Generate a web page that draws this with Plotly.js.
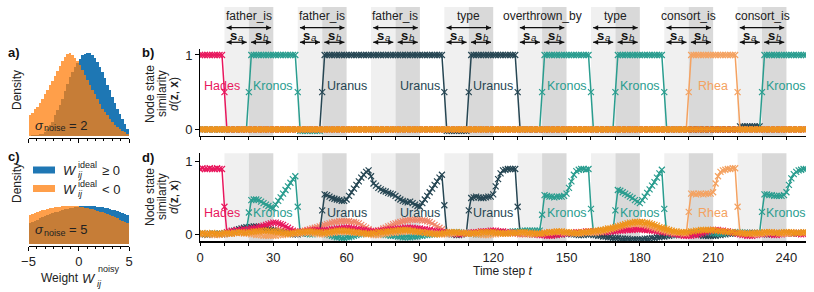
<!DOCTYPE html>
<html><head><meta charset="utf-8">
<script src="https://cdn.plot.ly/plotly-3.0.1.min.js"></script>
<style>html,body{margin:0;padding:0;background:#fff}#chart{width:814px;height:292px}</style>
</head><body><div id="chart"></div>
<script>
// ---------- DATA ----------
const binCenters = [-4.875,-4.625,-4.375,-4.125,-3.875,-3.625,-3.375,-3.125,-2.875,-2.625,-2.375,-2.125,-1.875,-1.625,-1.375,-1.125,-0.875,-0.625,-0.375,-0.125,
 0.125,0.375,0.625,0.875,1.125,1.375,1.625,1.875,2.125,2.375,2.625,2.875,3.125,3.375,3.625,3.875,4.125,4.375,4.625,4.875];
// panel a (sigma_noise = 2), relative density
const posA = [.005,.007,.01,.015,.02,.03,.045,.09,.13,.17,.25,.31,.37,.45,.54,.63,.71,.77,.83,.88,
 .93,.97,.99,1.0,1.0,.98,.94,.89,.83,.77,.70,.62,.55,.47,.40,.32,.26,.20,.14,.09];
const negA = [.25,.28,.32,.355,.40,.45,.50,.55,.61,.66,.72,.78,.84,.90,.95,.99,1.0,.97,.94,.90,
 .85,.79,.73,.68,.62,.56,.50,.44,.39,.33,.29,.25,.205,.165,.135,.105,.08,.06,.045,.03];
// panel c (sigma_noise = 5)
const negC = [.355,.365,.375,.385,.395,.405,.415,.425,.432,.438,.443,.448,.451,.455,.458,.46,.46,.458,.456,.452,
 .448,.444,.438,.432,.426,.418,.41,.40,.39,.38,.37,.36,.345,.333,.32,.308,.295,.282,.27,.255];
const posC = [.255,.27,.282,.295,.308,.32,.333,.345,.36,.37,.38,.39,.40,.41,.418,.426,.432,.438,.444,.448,
 .452,.456,.458,.46,.46,.458,.455,.451,.448,.443,.438,.432,.425,.415,.405,.395,.385,.375,.365,.355];

const nSteps = 249;
// panel b (ideal weights), t = 0..248
const hadesB = [
1,1,1,1,1,1,1,1,1,1, .5,0,0,0,0,0,0,0,0,0, 0,0,0,0,0,0,0,0,0,0, 0,0,0,0,0,0,0,0,0,0, 0,0,0,0,0,0,0,0,0,0,
0,0,0,0,0,0,0,0,0,0, 0,0,0,0,0,0,0,0,0,0, 0,0,0,0,0,0,0,0,0,0, 0,0,0,0,0,0,0,0,0,0, 0,0,0,0,0,0,0,0,0,0,
0,0,0,0,0,0,0,0,0,0, 0,0,0,0,0,0,0,0,0,0, 0,0,0,0,0,0,0,0,0,0, 0,0,0,0,0,0,0,0,0,0, 0,0,0,0,0,0,0,0,0,0,
0,0,0,0,0,0,0,0,0,0, 0,0,0,0,0,0,0,0,0,0, 0,0,0,0,0,0,0,0,0,0, 0,0,0,0,0,0,0,0,0,0, 0,0,0,0,0,0,0,0,0,0,
0,0,0,0,0,0,0,0,0,0, 0,0,0,0,0,0,0,0,0,0, 0,0,0,0,0,0,0,0,0,0, 0,0,0,0,0,0,0,0,0,0, 0,0,0,0,0,0,0,0,0];
const kronosB = [
0,0,0,0,0,0,0,0,0,0, 0,0,0,0,0,0,0,0,0,0, .5,1,1,1,1,1,1,1,1,1, 1,1,1,1,1,1,1,1,1,1, .5,-.02,-.02,-.02,-.02,-.02,-.02,-.02,-.02,-.02,
0,0,0,0,0,0,0,0,0,0, 0,0,0,0,0,0,0,0,0,0, 0,0,0,0,0,0,0,0,0,0, 0,0,0,0,0,0,0,0,0,0, 0,0,0,0,0,0,0,0,0,0,
0,0,0,0,0,0,0,0,0,0, 0,0,0,0,0,0,0,0,0,0, 0,0,0,0,0,0,0,0,0,0, 0,0,0,0,0,0,0,0,0,0, .5,1,1,1,1,1,1,1,1,1,
1,1,1,1,1,1,1,1,1,1, .5,0,0,0,0,0,0,0,0,0, .5,1,1,1,1,1,1,1,1,1, 1,1,1,1,1,1,1,1,1,1, .5,0,0,0,0,0,0,0,0,0,
0,0,0,0,0,0,0,0,0,0, 0,0,0,0,0,0,0,0,0,0, 0,0,0,0,0,0,0,0,0,0, .5,1,1,1,1,1,1,1,1,1, 1,1,1,1,1,1,1,1,1];
const uranusB = [
0,0,0,0,0,0,0,0,0,0, 0,0,0,0,0,0,0,0,0,0, 0,0,0,0,0,0,0,0,0,0, 0,0,0,0,0,0,0,0,0,0, 0,0,0,0,0,0,0,0,0,0,
.5,1,1,1,1,1,1,1,1,1, 1,1,1,1,1,1,1,1,1,1, 1,1,1,1,1,1,1,1,1,1, 1,1,1,1,1,1,1,1,1,1, 1,1,1,1,1,1,1,1,1,1,
.5,-.02,-.02,-.02,-.02,-.02,-.02,-.02,-.02,-.02, .5,1,1,1,1,1,1,1,1,1, 1,1,1,1,1,1,1,1,1,1, .5,0,0,0,0,0,0,0,0,0, 0,0,0,0,0,0,0,0,0,0,
0,0,0,0,0,0,0,0,0,0, 0,0,0,0,0,0,0,0,0,0, 0,0,0,0,0,0,0,0,0,0, 0,0,0,0,0,0,0,0,0,0, 0,0,0,0,0,0,0,0,0,0,
0,0,0,0,0,0,0,0,0,0, 0,0,0,0,0,0,0,0,0,0, 0,.04,.04,.04,.04,.04,.04,.04,.04,.04, 0,0,0,0,0,0,0,0,0,0, 0,0,0,0,0,0,0,0,0];
const rheaB = [
0,0,0,0,0,0,0,0,0,0, 0,0,0,0,0,0,0,0,0,0, 0,0,0,0,0,0,0,0,0,0, 0,0,0,0,0,0,0,0,0,0, 0,0,0,0,0,0,0,0,0,0,
0,0,0,0,0,0,0,0,0,0, 0,0,0,0,0,0,0,0,0,0, 0,0,0,0,0,0,0,0,0,0, 0,0,0,0,0,0,0,0,0,0, 0,0,0,0,0,0,0,0,0,0,
0,0,0,0,0,0,0,0,0,0, 0,0,0,0,0,0,0,0,0,0, 0,0,0,0,0,0,0,0,0,0, 0,0,0,0,0,0,0,0,0,0, 0,0,0,0,0,0,0,0,0,0,
0,0,0,0,0,0,0,0,0,0, 0,0,0,0,0,0,0,0,0,0, 0,0,0,0,0,0,0,0,0,0, 0,0,0,0,0,0,0,0,0,0, 0,0,0,0,0,0,0,0,0,0,
.5,1,1,1,1,1,1,1,1,1, 1,1,1,1,1,1,1,1,1,1, .5,0,0,0,0,0,0,0,0,0, 0,0,0,0,0,0,0,0,0,0, 0,0,0,0,0,0,0,0,0];
const otherB = [
0,0,0,0,0,0,0,0,0,0, 0,0,0,0,0,0,0,0,0,0, 0,0,0,0,0,0,0,0,0,0, 0,0,0,0,0,0,0,0,0,0, 0,0,0,0,0,0,0,0,0,0,
0,0,0,0,0,0,0,0,0,0, 0,0,0,0,0,0,0,0,0,0, 0,0,0,0,0,0,0,0,0,0, 0,0,0,0,0,0,0,0,0,0, 0,0,0,0,0,0,0,0,0,0,
0,0,0,0,0,0,0,0,0,0, 0,0,0,0,0,0,0,0,0,0, 0,0,0,0,0,0,0,0,0,0, 0,0,0,0,0,0,0,0,0,0, 0,0,0,0,0,0,0,0,0,0,
0,0,0,0,0,0,0,0,0,0, 0,0,0,0,0,0,0,0,0,0, 0,0,0,0,0,0,0,0,0,0, 0,0,0,0,0,0,0,0,0,0, 0,0,0,0,0,0,0,0,0,0,
0,0,0,0,0,0,0,0,0,0, 0,0,0,0,0,0,0,0,0,0, 0,0,0,0,0,0,0,0,0,0, 0,0,0,0,0,0,0,0,0,0, 0,0,0,0,0,0,0,0,0];

// panel d (noisy weights)
const hadesD = [
.90,.91,.90,.90,.91,.90,.90,.91,.90,.90, .38,.03,.04,.05,.04,.06,.05,.06,.07,.06, .07,.08,.08,.09,.10,.11,.12,.13,.14,.15,
.16,.16,.15,.14,.13,.11,.09,.07,.05,.04, .03,.03,.04,.04,.05,.05,.05,.06,.06,.05, .05,.06,.06,.06,.07,.07,.08,.08,.08,.09,
.09,.09,.08,.08,.07,.07,.06,.06,.05,.05, .04,.04,.04,.05,.05,.05,.06,.06,.07,.07, .07,.08,.08,.08,.09,.09,.09,.09,.08,.08,
.08,.07,.07,.06,.06,.05,.05,.04,.04,.03, .03,.02,.02,.01,.01,.00,.00,.01,.01,.02, .02,.02,.03,.03,.03,.04,.04,.04,.04,.05,
.05,.05,.04,.04,.04,.03,.03,.03,.02,.02, .02,.02,.01,.01,.01,.01,.00,.00,.00,-.01, -.01,-.01,-.02,-.02,-.02,-.01,-.01,.00,.00,.01,
.01,.02,.02,.02,.03,.03,.03,.03,.04,.04, .04,.04,.04,.03,.03,.03,.03,.03,.04,.04, .04,.05,.05,.05,.06,.06,.06,.06,.07,.07,
.07,.07,.06,.06,.06,.05,.05,.04,.04,.03, .03,.02,.02,.01,.00,.00,-.01,-.01,-.02,-.02, -.02,-.02,-.01,-.01,.00,.01,.02,.03,.04,.05,
.06,.06,.06,.05,.05,.04,.04,.03,.02,.02, .01,.00,-.01,-.01,-.02,-.02,-.02,-.01,-.01,.00, .00,.01,.01,.00,.00,-.01,-.01,.00,.00,.01,
.01,.01,.02,.02,.01,.01,.00,.00,.01];
const kronosD = [
.00,.01,.01,.00,.00,.01,.01,.00,.00,.01, .01,.01,.02,.02,.03,.03,.04,.04,.05,.06, .30,.47,.48,.48,.47,.45,.43,.41,.39,.37,
.36,.41,.46,.51,.56,.61,.66,.71,.76,.80, .38,.03,.02,.01,.01,.00,.00,.01,.01,.02, .03,.02,.00,-.01,-.02,-.03,-.04,-.04,-.05,-.05,
-.04,-.04,-.03,-.02,-.01,.00,.00,.01,.01,.01, .01,.01,.00,.00,.00,.00,-.01,-.01,-.02,-.02, -.02,-.03,-.03,-.04,-.04,-.04,-.04,-.03,-.03,-.03,
-.02,-.02,-.01,-.01,.00,.00,.00,.01,.01,.01, .01,.02,.02,.02,.03,.03,.03,.02,.02,.02, .01,.01,.01,.00,.00,.00,.01,.01,.01,.02,
.02,.02,.03,.03,.03,.03,.03,.03,.04,.04, .04,.04,.05,.05,.05,.05,.05,.05,.05,.05, .27,.54,.53,.52,.52,.51,.52,.52,.52,.53,
.56,.64,.73,.82,.87,.89,.90,.90,.89,.90, .35,.04,.04,.04,.05,.05,.05,.05,.05,.05, .33,.61,.60,.58,.56,.54,.52,.50,.47,.45,
.43,.47,.52,.57,.62,.67,.72,.78,.84,.89, .35,.02,.01,.00,.00,-.01,-.01,.00,.00,.01, .01,.01,.02,.02,.02,.03,.03,.03,.02,.02,
.02,.01,.01,.01,.01,.02,.02,.02,.03,.03, .03,.03,.02,.02,.02,.01,.01,.01,.02,.02, .31,.55,.55,.54,.54,.53,.53,.53,.53,.54,
.58,.68,.77,.83,.86,.88,.89,.90,.90];
const uranusD = [
.01,.00,.00,.01,.01,.00,.00,.01,.01,.00, .01,.02,.03,.04,.05,.06,.07,.08,.09,.10, .10,.10,.11,.11,.10,.10,.09,.08,.07,.06,
.05,.04,.03,.03,.02,.02,.01,.01,.00,.00, .00,.01,.01,.02,.02,.02,.03,.03,.03,.04, .33,.55,.54,.52,.50,.49,.48,.47,.46,.46,
.48,.53,.58,.63,.68,.73,.78,.82,.86,.88, .80,.70,.67,.64,.62,.60,.59,.57,.56,.55, .53,.50,.48,.46,.45,.44,.45,.43,.41,.39,
.38,.43,.48,.53,.58,.63,.68,.73,.78,.82, .40,.02,.01,.00,.00,-.01,-.01,.00,.01,.02, .33,.50,.51,.52,.51,.50,.50,.51,.52,.52,
.55,.66,.76,.84,.88,.89,.90,.90,.90,.90, .38,.02,.02,.01,.01,.01,.00,.00,.01,.01, .01,.01,.00,.00,-.01,-.01,.00,.00,.00,.01,
.01,.01,.00,.00,.00,-.01,-.01,-.01,.00,.00, .00,-.01,-.01,-.02,-.02,-.03,-.03,-.04,-.04,-.05, -.05,-.05,-.06,-.06,-.06,-.06,-.07,-.07,-.07,-.07,
-.07,-.07,-.06,-.06,-.06,-.05,-.05,-.04,-.04,-.03, -.03,-.02,-.02,-.01,-.01,.00,.00,.00,.01,.01, .01,.01,.00,.00,-.01,-.01,-.02,-.02,-.02,-.02,
-.02,-.02,-.01,-.01,.00,.00,.01,.01,.01,.01, .02,.02,.02,.02,.02,.02,.02,.02,.01,.01, .01,.01,.00,.00,.00,.01,.01,.01,.02,.02,
.02,.02,.01,.01,.01,.02,.02,.02,.02];
const rheaD = [
.00,.00,.01,.01,.00,.00,-.01,-.01,.00,.00, .00,.01,.01,.01,.02,.02,.02,.02,.01,.01, .01,.00,.00,-.01,-.01,-.01,-.02,-.02,-.02,-.02,
-.02,-.02,-.01,-.01,-.01,.00,.00,.00,.01,.01, .01,.01,.02,.02,.02,.02,.01,.01,.01,.00, .00,.00,.01,.01,.02,.02,.03,.03,.03,.03,
.03,.03,.03,.02,.02,.02,.01,.01,.00,.00, .00,-.01,-.01,-.01,.00,.00,.01,.01,.02,.02, .02,.03,.03,.03,.04,.04,.04,.04,.03,.03,
.03,.03,.02,.02,.02,.01,.01,.01,.00,.00, .00,.00,.01,.01,.01,.02,.02,.02,.02,.02, .01,.01,.01,.00,.00,.00,-.01,-.01,-.01,.00,
.00,.00,.01,.01,.01,.01,.02,.02,.02,.02, .02,.02,.01,.01,.01,.00,.00,.00,.01,.01, .01,.02,.02,.02,.03,.03,.03,.03,.03,.02,
.02,.02,.02,.01,.01,.01,.01,.02,.02,.02, .02,.02,.02,.03,.03,.04,.05,.06,.07,.08, .09,.10,.11,.12,.13,.13,.14,.14,.14,.14,
.14,.13,.13,.12,.11,.10,.09,.08,.07,.06, .05,.04,.03,.03,.02,.02,.02,.02,.01,.01, .31,.56,.56,.55,.56,.56,.55,.56,.56,.56,
.58,.70,.80,.86,.88,.89,.90,.90,.91,.91, .38,.02,.02,.01,.01,.01,.00,.00,.00,.01, .01,.01,.02,.02,.02,.02,.02,.01,.01,.01,
.01,.01,.01,.02,.02,.02,.02,.02,.02];
const orangeD = [
.01,.02,.01,.00,.01,.02,.01,.01,.00,.01, .02,.02,.01,.01,.02,.02,.03,.03,.02,.02, .03,.03,.04,.04,.04,.05,.05,.05,.05,.04,
.04,.04,.03,.03,.02,.02,.01,.01,.02,.02, .03,.03,.03,.04,.04,.04,.04,.03,.03,.03, .02,.02,.03,.03,.04,.04,.05,.05,.05,.05,
.05,.04,.04,.03,.03,.02,.02,.02,.01,.01, .01,.02,.02,.03,.03,.03,.04,.04,.04,.05, .05,.05,.06,.06,.06,.06,.05,.05,.04,.04,
.03,.03,.02,.02,.01,.01,.00,.00,.01,.01, .02,.02,.03,.03,.03,.03,.02,.02,.02,.01, .01,.01,.02,.02,.02,.03,.03,.03,.03,.03,
.03,.02,.02,.02,.01,.01,.01,.02,.02,.02, .02,.03,.03,.03,.02,.02,.02,.01,.01,.01, .01,.02,.02,.03,.03,.03,.04,.04,.04,.03,
.03,.03,.02,.02,.02,.02,.03,.03,.03,.04, .04,.04,.05,.05,.06,.06,.07,.08,.08,.09, .10,.11,.12,.13,.14,.15,.16,.16,.17,.17,
.17,.17,.16,.16,.15,.14,.13,.12,.10,.09, .08,.07,.06,.05,.04,.04,.03,.03,.03,.03, .03,.04,.04,.05,.05,.06,.06,.06,.06,.06,
.06,.05,.05,.04,.04,.04,.03,.03,.03,.02, .02,.02,.01,.01,.01,.01,.02,.02,.02,.02, .02,.03,.03,.03,.03,.02,.02,.02,.02,.03,
.03,.03,.03,.02,.02,.02,.02,.03,.03];
const salmonD = [
.01,.00,.00,-.01,.00,.00,.01,.01,.00,.00, .00,.01,.01,.01,.02,.02,.02,.03,.03,.03, .03,.04,.04,.04,.05,.05,.05,.06,.06,.06,
.06,.06,.06,.05,.05,.05,.04,.04,.04,.03, .03,.03,.04,.05,.06,.07,.08,.09,.10,.11, .12,.13,.14,.15,.16,.17,.17,.18,.18,.18,
.18,.18,.17,.17,.16,.15,.13,.11,.09,.07, .05,.04,.04,.05,.06,.08,.09,.11,.12,.14, .15,.16,.17,.18,.19,.19,.20,.20,.20,.20,
.20,.19,.19,.18,.17,.15,.13,.11,.09,.07, .05,.03,.02,.01,.01,.00,.00,.00,.01,.01, .01,.01,.01,.02,.02,.02,.02,.02,.03,.03,
.03,.03,.03,.03,.02,.02,.02,.02,.01,.01, .01,.00,.00,.00,.01,.01,.01,.02,.02,.02, .02,.02,.02,.03,.03,.03,.03,.03,.02,.02,
.02,.02,.02,.01,.01,.01,.01,.01,.02,.02, .02,.03,.03,.03,.04,.04,.04,.05,.05,.05, .06,.06,.06,.07,.07,.07,.07,.07,.07,.07,
.07,.07,.07,.06,.06,.06,.05,.05,.04,.04, .04,.03,.03,.03,.02,.02,.02,.02,.02,.02, .02,.02,.03,.03,.03,.04,.04,.04,.04,.04,
.04,.04,.03,.03,.03,.03,.02,.02,.02,.02, .02,.01,.01,.01,.01,.01,.01,.02,.02,.02, .02,.02,.02,.02,.02,.02,.02,.02,.01,.01,
.01,.01,.01,.01,.02,.02,.02,.02,.02];

const relationStarts = [10,40,70,100,130,160,190,220];
const relationNames = ['father_is','father_is','father_is','type','overthrown_by','type','consort_is','consort_is'];
const entityLabels = ['Hades','Kronos','Uranus','Uranus','Uranus','Kronos','Kronos','Rhea','Kronos'];
const entitySteps = [1,30,60,90,120,150,180,210,240];

// ---------- STYLE ----------
const C = {Hades:'#E8175D', Kronos:'#2A9D8F', Uranus:'#264653', Rhea:'#F4A261', other:'#EE931C', salmon:'#F0866A'};
const W = 814, H = 292;
const px = p => p / W, py = p => 1 - p / H;
const FONT = 'Liberation Sans, Arial, sans-serif';
const steps = Array.from({length: nSteps}, (_, i) => i);

function lt(y, color, xa, ya) {
  return {type:'scatter', mode:'lines+markers', x: steps, y: y, xaxis: xa, yaxis: ya,
    line:{color: color, width:1.5}, marker:{symbol:'x-thin', size:6, color: color, line:{width:1.2, color: color}},
    hoverinfo:'skip', showlegend:false};
}
function bars(y, color, op, xa, ya) {
  return {type:'bar', x: binCenters, y: y, width: 0.25, xaxis: xa, yaxis: ya, opacity: op,
    marker:{color: color, line:{width:0}}, hoverinfo:'skip', showlegend:false};
}

// double-headed span arrows above panel b (overlay axes x5/y5; y5 runs in pixel rows from the top)
const arrowX = [], arrowY = [], arrowSym = [];
relationStarts.forEach(s => {
  [[s+0.9, s+19.1, 27.7], [s+0.9, s+9.1, 42.3], [s+10.9, s+19.1, 42.3]].forEach(([a, b, r]) => {
    arrowX.push(a, b, null); arrowY.push(r, r, null); arrowSym.push('arrow-left', 'arrow-right', 'circle');
  });
});

const data = [
  bars(posA, '#1f77b4', 1, 'x', 'y'), bars(negA, '#ff7f0e', 0.75, 'x', 'y'),
  bars(posC, '#1f77b4', 1, 'x2', 'y2'), bars(negC, '#ff7f0e', 0.75, 'x2', 'y2'),
  lt(otherB, C.salmon, 'x3','y3'), lt(uranusB, C.Uranus, 'x3','y3'), lt(kronosB, C.Kronos, 'x3','y3'),
  lt(hadesB, C.Hades, 'x3','y3'), lt(rheaB, C.Rhea, 'x3','y3'), lt(otherB, C.other, 'x3','y3'),
  lt(salmonD, C.salmon, 'x4','y4'), lt(uranusD, C.Uranus, 'x4','y4'), lt(kronosD, C.Kronos, 'x4','y4'),
  lt(hadesD, C.Hades, 'x4','y4'), lt(rheaD, C.Rhea, 'x4','y4'), lt(orangeD, C.other, 'x4','y4'),
  {type:'scatter', mode:'lines+markers', x: arrowX, y: arrowY, xaxis:'x5', yaxis:'y5', connectgaps:false, cliponaxis:false,
   line:{color:'#111', width:1.3}, marker:{symbol: arrowSym, size:5, color:'#111', line:{width:0}},
   hoverinfo:'skip', showlegend:false}
];

const histX = (dom, labels) => ({domain: dom, range:[-5,5], anchor: labels ? 'y2':'y', showgrid:false, zeroline:false,
  showline:true, linecolor:'#000', linewidth:1, ticks:'outside', ticklen:3.5, tickwidth:1, tickcolor:'#000',
  tickmode:'linear', tick0:-5, dtick:5, showticklabels: labels, tickfont:{size:13, color:'#222', family:FONT},
  minor:{tickmode:'linear', tick0:-5, dtick:5/6, ticks:'outside', ticklen:2, tickwidth:1, tickcolor:'#000'}});
const histY = (dom, rng, anchor) => ({domain: dom, range: rng, anchor: anchor, visible:false, showgrid:false, zeroline:false});
const timeX = (dom, labels, anchor, lw) => ({domain: dom, range:[0,248], anchor: anchor, showgrid:false, zeroline:false,
  showline:true, linecolor:'#000', linewidth: lw, ticks:'outside', ticklen:3.5, tickwidth:1, tickcolor:'#000',
  tickmode:'linear', tick0:0, dtick:30, showticklabels: labels, tickfont:{size:13, color:'#222', family:FONT},
  minor:{tickmode:'linear', tick0:0, dtick:10, ticks:'outside', ticklen:3.5, tickwidth:1, tickcolor:'#000'}});
const simY = (dom, rng, anchor) => ({domain: dom, range: rng, anchor: anchor, showgrid:false, zeroline:false,
  showline:true, linecolor:'#000', linewidth:1, ticks:'outside', ticklen:4, tickwidth:1, tickcolor:'#000',
  tickmode:'linear', tick0:0, dtick:1, tickfont:{size:13, color:'#222', family:FONT}});

const shapes = [];
const bY = [py(135.7), py(7)], dY = [py(241), py(153.3)];
relationStarts.forEach(s => {
  [['x3', bY], ['x4', dY]].forEach(([xr, yy]) => {
    shapes.push({type:'rect', xref:xr, yref:'paper', x0:s, x1:s+10, y0:yy[0], y1:yy[1], fillcolor:'#F0F0F0', line:{width:0}, layer:'below'});
    shapes.push({type:'rect', xref:xr, yref:'paper', x0:s+10, x1:s+20, y0:yy[0], y1:yy[1], fillcolor:'#D9D9D9', line:{width:0}, layer:'below'});
  });
});
// legend patches (panel c)
shapes.push({type:'rect', xref:'paper', yref:'paper', x0:px(33), x1:px(55), y0:py(173.5), y1:py(166.5), fillcolor:'#1f77b4', line:{width:0}});
shapes.push({type:'rect', xref:'paper', yref:'paper', x0:px(33), x1:px(55), y0:py(192), y1:py(185), fillcolor:'rgba(255,127,14,0.75)', line:{width:0}});

const ann = [];
const T = (text, x, y, o) => Object.assign({text: text, x: px(x), y: py(y), xref:'paper', yref:'paper', showarrow:false,
  font:{size:12, color:'#222', family:FONT}, xanchor:'center', yanchor:'middle'}, o || {});
const F = (size, color) => ({size: size, color: color || '#222', family: FONT});
ann.push(T('<b>a)</b>', 14, 52, {font:F(13,'#111')}));
ann.push(T('<b>c)</b>', 14, 156, {font:F(13,'#111')}));
ann.push(T('<b>b)</b>', 148, 52, {font:F(13,'#111')}));
ann.push(T('<b>d)</b>', 148, 157, {font:F(13,'#111')}));
ann.push(T('Density', 17, 90, {textangle:-90}));
ann.push(T('Density', 17, 183, {textangle:-90}));
// sigma_noise labels (subscript drawn as its own small text)
[[125, '= 2'], [229, '= 5']].forEach(([yc, val]) => {
  ann.push(T('<i>σ</i>', 33, yc, {xanchor:'left', font:F(13)}));
  ann.push(T('noise', 41.5, yc+3.5, {xanchor:'left', font:F(9)}));
  ann.push(T(val, 66.5, yc, {xanchor:'left', font:F(13)}));
});
// x title panel c
ann.push(T('Weight', 60, 278));
ann.push(T('<i>W</i>', 89, 278, {font:F(13)}));
ann.push(T('noisy', 96, 269, {xanchor:'left', font:F(9)}));
ann.push(T('<i>ij</i>', 95, 284, {xanchor:'left', font:F(9)}));
// legend texts
[[170, '≥ 0'], [189, '< 0']].forEach(([yc, rel]) => {
  ann.push(T('<i>W</i>', 70, yc, {font:F(13)}));
  ann.push(T('ideal', 76, yc-5.5, {xanchor:'left', font:F(9)}));
  ann.push(T('<i>ij</i>', 76, yc+5, {xanchor:'left', font:F(9)}));
  ann.push(T(rel, 100, yc, {xanchor:'left', font:F(13)}));
});
// y titles b, d
[94, 197].forEach(yc => {
  ann.push(T('Node state', 150, yc, {textangle:-90}));
  ann.push(T('similarity', 162, yc, {textangle:-90}));
  ann.push(T('<i>d</i>(<b>z</b>, <b>x</b>)', 174, yc, {textangle:-90}));
});
ann.push(T('Time step <i>t</i>', 503, 271));
// relation labels and s_a / s_b
relationStarts.forEach((s, i) => {
  ann.push({xref:'x3', yref:'paper', x: s+10, y: py(16), text: relationNames[i], showarrow:false,
    font:F(12), xanchor:'center', yanchor:'middle'});
  [[s+5, 'a'], [s+15, 'b']].forEach(([xc, sub]) => {
    ann.push({xref:'x3', yref:'paper', x: xc, y: py(35), xshift:-3, text:'<b>s</b>', showarrow:false,
      font:F(13,'#111'), xanchor:'center', yanchor:'middle'});
    ann.push({xref:'x3', yref:'paper', x: xc, y: py(38), xshift:4, text:'<i>' + sub + '</i>', showarrow:false,
      font:F(9.5,'#111'), xanchor:'center', yanchor:'middle'});
  });
});
// entity labels inside panels
entityLabels.forEach((name, i) => {
  const xa = i === 0 ? 'left' : 'center';
  ann.push({xref:'x3', yref:'y3', x: entitySteps[i], y: 0.58, text: name, showarrow:false, xanchor: xa, yanchor:'middle',
    font:F(12.5, C[name])});
  ann.push({xref:'x4', yref:'y4', x: entitySteps[i], y: 0.29, text: name, showarrow:false, xanchor: xa, yanchor:'middle',
    font:F(12.5, C[name])});
});

const layout = {
  width: W, height: H, margin:{l:0, r:0, t:0, b:0}, paper_bgcolor:'#fff', plot_bgcolor:'rgba(0,0,0,0)',
  font:{family: FONT, size:12, color:'#222'}, barmode:'overlay', bargap:0, showlegend:false,
  xaxis: histX([px(28.5), px(129)], false),
  yaxis: histY([py(138.3), py(46)], [-0.0277, 1.084], 'x'),
  xaxis2: histX([px(28.5), px(129)], true),
  yaxis2: histY([py(246), py(200)], [-0.024, 0.530], 'x2'),
  xaxis3: timeX([px(200), px(806)], false, 'y3', 1),
  yaxis3: simY([py(135.7), py(48.6)], [-0.086, 1.086], 'x3'),
  xaxis4: timeX([px(200), px(806)], true, 'y4', 1.8),
  yaxis4: simY([py(241), py(153.3)], [-0.092, 1.116], 'x4'),
  xaxis5: {domain:[px(200), px(806)], range:[0,248], anchor:'y5', visible:false},
  yaxis5: {domain:[py(50), 1], range:[50, 0], anchor:'x5', visible:false},
  shapes: shapes, annotations: ann
};
Plotly.newPlot('chart', data, layout, {staticPlot:true, displayModeBar:false});
</script></body></html>
